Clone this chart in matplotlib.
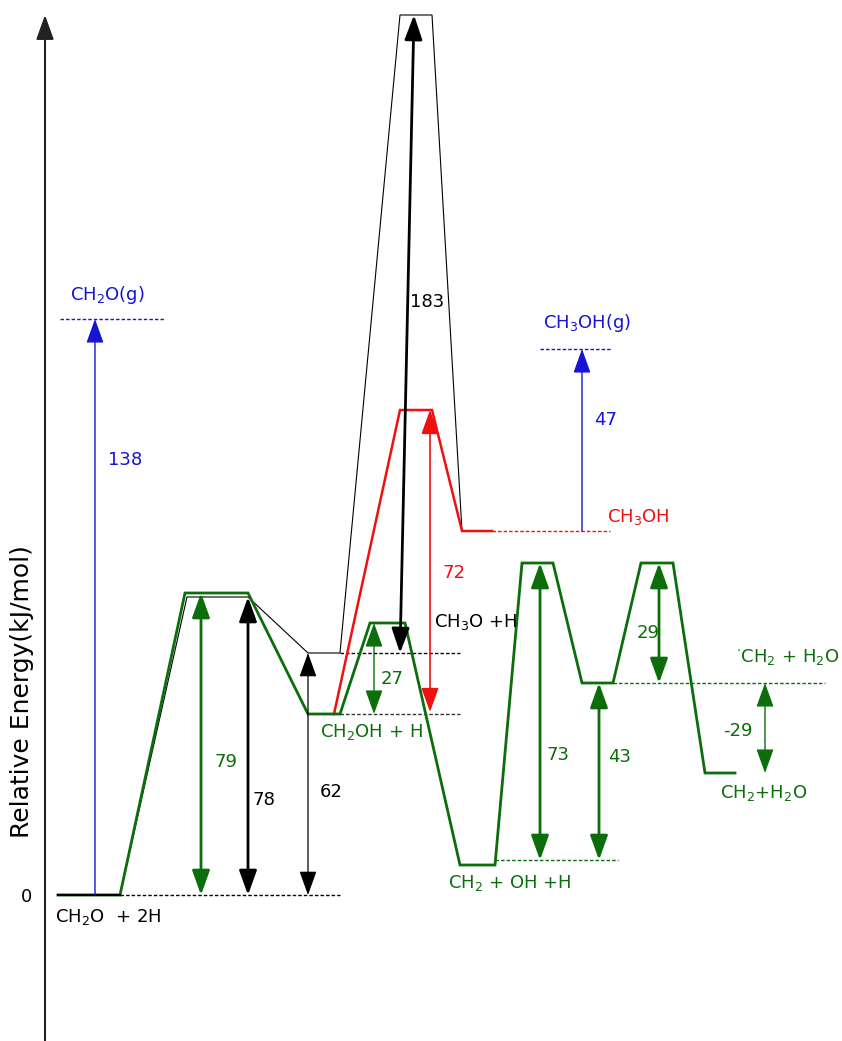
import matplotlib
matplotlib.use('Agg')
import matplotlib.pyplot as plt

# energy diagram (levels in diagram units, baseline = 0; diagram is not to scale)
GREEN = '#0b6e0b'
BLUE = '#1414d2'
RED = '#f01010'

# plateaus of each pathway: (x start, x end, level)
green_x = [(58, 120), (185, 248), (308, 340), (370, 405), (460, 495),
           (522, 553), (582, 613), (641, 673), (705, 735)]
green_lvl = [0, 302, 181, 272, 30, 332, 212, 332, 122]

black_x = [(58, 120), (187, 248), (308, 340), (400, 432), (462, 492)]
black_lvl = [0, 298, 242, 880, 364]

red_x = [(334, 334), (400, 432), (462, 492)]
red_lvl = [181, 485, 364]

# gas-phase levels
ch2o_g = 576
ch3oh_g = 546

# barrier / energy labels (kJ/mol)
barrier_vals = ['138', '79', '78', '62', '183', '27', '72', '47', '73', '43', '29', '-29']


def path(ax, xs, lv, color, lw):
    px, py = [], []
    for (a, b), l in zip(xs, lv):
        px += [a, b]
        py += [l, l]
    ax.plot(px, py, color=color, lw=lw, solid_joinstyle='miter')


def dotted(ax, x0, x1, y, color):
    ax.plot([x0, x1], [y, y], color=color, lw=1, ls=(0, (2.5, 1.5)))


def arrow(ax, x0, y0, x1, y1, color, lw, style='<|-|>'):
    ax.annotate('', xy=(x1, y1), xytext=(x0, y0),
                arrowprops=dict(arrowstyle=style + ',head_length=0.75,head_width=0.27',
                                mutation_scale=20, color=color, lw=lw,
                                shrinkA=0, shrinkB=0))


fig = plt.figure(figsize=(8.42, 10.41), dpi=100)
ax = fig.add_axes([0, 0, 1, 1])
ax.set_xlim(0, 842)
ax.set_ylim(-146, 895)
ax.axis('off')

# y axis with arrow
arrow(ax, 45, -146, 45, 880, '#222222', 1.5, style='-|>')
ax.text(22, 203, 'Relative Energy(kJ/mol)', rotation=90, ha='center', va='center', fontsize=18)
ax.text(27, -2, '0', ha='center', va='center', fontsize=13)

# baseline
dotted(ax, 120, 340, 0, 'black')
dotted(ax, 340, 460, black_lvl[2], 'black')
dotted(ax, 340, 460, green_lvl[2], '#333333')
dotted(ax, 495, 618, 35, GREEN)
dotted(ax, 613, 825, green_lvl[6], GREEN)
dotted(ax, 492, 610, red_lvl[2], RED)
dotted(ax, 60, 165, ch2o_g, BLUE)
dotted(ax, 540, 612, ch3oh_g, BLUE)

path(ax, black_x, black_lvl, 'black', 0.8)
path(ax, red_x, red_lvl, RED, 1.8)
path(ax, green_x, green_lvl, GREEN, 2.0)
ax.plot([58, 120], [0, 0], color='black', lw=1.6)

# arrows
arrow(ax, 95, 0, 95, ch2o_g, BLUE, 1.0, style='-|>')
arrow(ax, 582, red_lvl[2], 582, ch3oh_g, BLUE, 1.0, style='-|>')
arrow(ax, 201, 0, 201, green_lvl[1], GREEN, 2.0)
arrow(ax, 248, 0, 248, black_lvl[1], 'black', 2.0)
arrow(ax, 308, 0, 308, black_lvl[2], 'black', 0.9)
arrow(ax, 400, black_lvl[2], 414, black_lvl[3], 'black', 2.0)
arrow(ax, 374, green_lvl[2], 374, green_lvl[3], GREEN, 1.0)
arrow(ax, 430, green_lvl[2] + 2, 430, red_lvl[1], RED, 1.2)
arrow(ax, 540, 35, 540, green_lvl[5], GREEN, 2.0)
arrow(ax, 599, 35, 599, green_lvl[6], GREEN, 2.0)
arrow(ax, 659, green_lvl[6], 659, green_lvl[7], GREEN, 2.0)
arrow(ax, 765, green_lvl[8], 765, green_lvl[6], GREEN, 1.0)

fs = 13
ax.text(108, 435, barrier_vals[0], color=BLUE, fontsize=fs, va='center')
ax.text(214, 133, barrier_vals[1], color=GREEN, fontsize=fs, va='center')
ax.text(253, 95, barrier_vals[2], color='black', fontsize=fs, va='center')
ax.text(320, 103, barrier_vals[3], color='black', fontsize=fs, va='center')
ax.text(410, 593, barrier_vals[4], color='black', fontsize=fs, va='center')
ax.text(381, 216, barrier_vals[5], color=GREEN, fontsize=fs, va='center')
ax.text(443, 322, barrier_vals[6], color=RED, fontsize=fs, va='center')
ax.text(594, 475, barrier_vals[7], color=BLUE, fontsize=fs, va='center')
ax.text(546, 140, barrier_vals[8], color=GREEN, fontsize=fs, va='center')
ax.text(608, 138, barrier_vals[9], color=GREEN, fontsize=fs, va='center')
ax.text(637, 262, barrier_vals[10], color=GREEN, fontsize=fs, va='center')
ax.text(723, 164, barrier_vals[11], color=GREEN, fontsize=fs, va='center')

# species labels
ax.text(55, -22, 'CH$_2$O  + 2H', color='black', fontsize=fs, va='center')
ax.text(70, 600, 'CH$_2$O(g)', color=BLUE, fontsize=fs, va='center')
ax.text(543, 572, 'CH$_3$OH(g)', color=BLUE, fontsize=fs, va='center')
ax.text(607, 378, 'CH$_3$OH', color=RED, fontsize=fs, va='center')
ax.text(434, 273, 'CH$_3$O +H', color='black', fontsize=fs, va='center')
ax.text(320, 163, 'CH$_2$OH + H', color=GREEN, fontsize=fs, va='center')
ax.text(448, 12, 'CH$_2$ + OH +H', color=GREEN, fontsize=fs, va='center')
ax.text(839, 238, '$^{\\cdot}$CH$_2$ + H$_2$O', color=GREEN, fontsize=fs, va='center', ha='right')
ax.text(720, 102, 'CH$_2$+H$_2$O', color=GREEN, fontsize=fs, va='center')

fig.savefig('out.png', dpi=100)
